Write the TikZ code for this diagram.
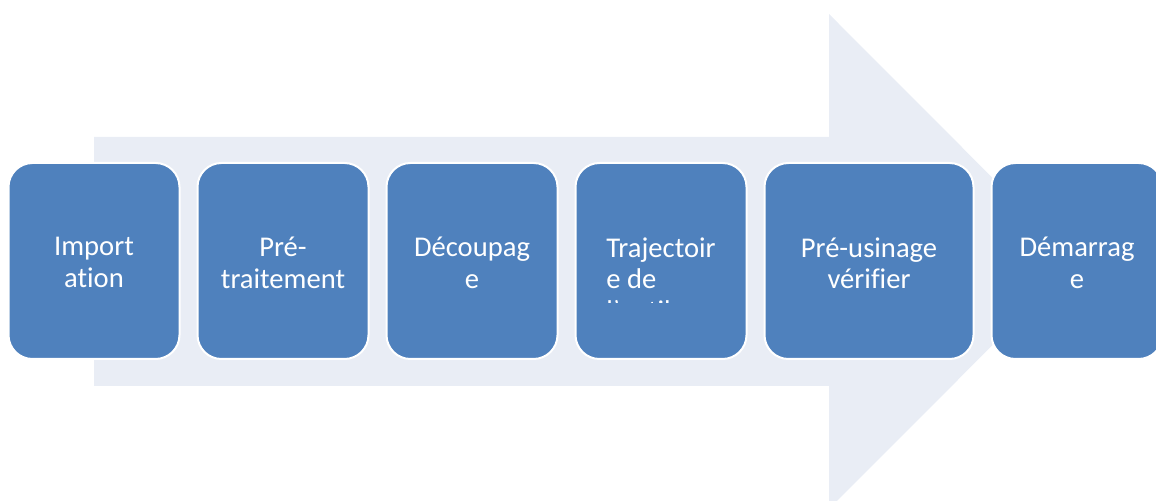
\documentclass[tikz,border=0pt]{standalone}
\usepackage{fontspec}
\setmainfont{Carlito}[Ligatures=NoCommon]
\usetikzlibrary{positioning}

\definecolor{stepblue}{RGB}{79,129,189}
\definecolor{arrowbg}{RGB}{233,237,245}

\tikzset{
  stepbox/.style={rectangle, rounded corners=12pt, fill=stepblue, draw=white,
    line width=1pt, minimum width=85.5pt, minimum height=98pt, inner sep=0pt},
  steptext/.style={text=white, align=center, inner sep=0pt,
    font=\fontsize{14.3}{15.8}\selectfont}
}

\begin{document}
\begin{tikzpicture}[x=0.5pt, y=-0.5pt]
  \useasboundingbox (0,0) rectangle (1156,501);
  %big arrow behind the steps
  \fill[arrowbg] (94,137) -- (829,137) -- (829,14) -- (1076,261.5)
    -- (829,509) -- (829,386) -- (94,386) -- cycle;
  %steps
  \node[stepbox] (imp) at (94,261) {};
  \node[stepbox, right=8pt of imp] (pre) {};
  \node[stepbox, right=8pt of pre] (dec) {};
  \node[stepbox, right=8pt of dec] (traj) {};
  \node[stepbox, minimum width=104.5pt, right=8pt of traj] (usin) {};
  \node[stepbox, right=8pt of usin] (dem) {};
  %labels
  \node[steptext, below=37.5pt of imp.north] (impl) {Import\\ation};
  \node[steptext, below=37.5pt of pre.north] (prel) {Pré-\\traitement};
  \node[steptext, below=37.5pt of dec.north] (decl) {Découpag\\e};
  \begin{scope}
    %text box of this step is too small, last line is cut
    \clip (traj.west |- 0,303) rectangle (traj.east |- 0,163);
    \node[steptext, align=left, below=37.5pt of traj.north] (trajl) {Trajectoir\\e de\\l'outil};
  \end{scope}
  \node[steptext, below=37.5pt of usin.north] (usinl) {Pré-usinage\\vérifier};
  \node[steptext, below=37.5pt of dem.north] (deml) {Démarrag\\e};
\end{tikzpicture}
\end{document}
